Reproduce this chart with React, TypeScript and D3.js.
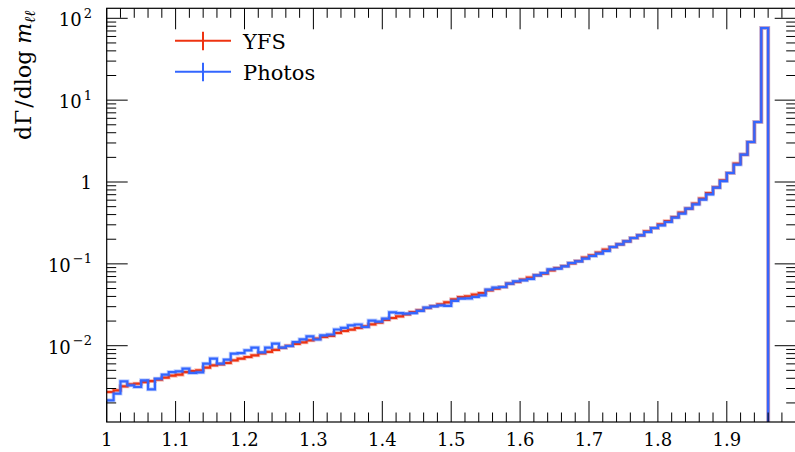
import React from 'react';
import * as d3 from 'd3';

// Histogram binning (bins of width 0.01 starting at m = 1.00)
const binStart = 1.0;
const binWidth = 0.01;

// dΓ/dlog m_ll per bin
const yfs = [
  0.00272, 0.00285, 0.00319, 0.00338, 0.00344, 0.0036, 0.0037, 0.00385, 0.00408, 0.00431,
  0.00443, 0.00477, 0.00491, 0.005, 0.0054, 0.00576, 0.00593, 0.00615, 0.00663, 0.00696,
  0.00728, 0.00763, 0.00807, 0.00842, 0.00891, 0.00943, 0.00997, 0.01055, 0.011, 0.01164,
  0.01221, 0.01277, 0.01321, 0.01429, 0.01512, 0.01573, 0.01646, 0.01726, 0.01826, 0.01915,
  0.02072, 0.0218, 0.02287, 0.02418, 0.0258, 0.02707, 0.02888, 0.03055, 0.03205, 0.0339,
  0.03689, 0.03936, 0.04013, 0.0421, 0.04405, 0.04751, 0.04984, 0.05215, 0.05737, 0.06002,
  0.06421, 0.06792, 0.07247, 0.07602, 0.08341, 0.08898, 0.09413, 0.1016, 0.1083, 0.1192,
  0.1272, 0.1372, 0.1493, 0.1606, 0.1733, 0.1886, 0.2069, 0.2233, 0.2498, 0.2742,
  0.3042, 0.3338, 0.3736, 0.4228, 0.4732, 0.5445, 0.6267, 0.7339, 0.8615, 1.049,
  1.288, 1.678, 2.161, 3.081, 5.408, 76.1,
];

const photos = [
  0.00215, 0.0026, 0.00367, 0.00328, 0.00313, 0.00378, 0.00293, 0.00396, 0.00443, 0.00477,
  0.00487, 0.00525, 0.00464, 0.00473, 0.00604, 0.00696, 0.00604, 0.00676, 0.008, 0.00814,
  0.00879, 0.00948, 0.0083, 0.00948, 0.01061, 0.00948, 0.00992, 0.0111, 0.01197, 0.01302,
  0.01191, 0.0134, 0.0137, 0.01577, 0.01654, 0.01775, 0.01815, 0.01692, 0.02026, 0.0197,
  0.02143, 0.02558, 0.02508, 0.02466, 0.02508, 0.02669, 0.02921, 0.0303, 0.03116, 0.03073,
  0.03537, 0.03762, 0.0378, 0.03936, 0.04126, 0.04845, 0.05127, 0.05215, 0.05737, 0.0612,
  0.06295, 0.0653, 0.07247, 0.07731, 0.08579, 0.0875, 0.09334, 0.1024, 0.1074, 0.1159,
  0.1247, 0.1334, 0.1435, 0.1606, 0.1733, 0.1886, 0.2069, 0.2233, 0.2449, 0.2742,
  0.2958, 0.3246, 0.3674, 0.4111, 0.4732, 0.534, 0.6095, 0.7075, 0.8543, 1.028,
  1.288, 1.631, 2.161, 3.081, 5.408, 76.1,
];

const seriesNames = ['YFS', 'Photos'];
const seriesColors = ['#ee3311', '#3366ff'];
const seriesValues = [yfs, photos];

const xTickValues = [1.0, 1.1, 1.2, 1.3, 1.4, 1.5, 1.6, 1.7, 1.8, 1.9];
const xTickLabels = ['1', '1.1', '1.2', '1.3', '1.4', '1.5', '1.6', '1.7', '1.8', '1.9'];
const yTickExponents = [-2, -1, 0, 1, 2];

const W = 795;
const H = 452;
const box = { left: 106.7, right: 795.7, top: 8.3, bottom: 422 };
const FONT = 'DejaVu Serif';

export default function App() {
  const x = d3.scaleLinear().domain([1, 2]).range([box.left, box.right]);
  const yMin = Math.pow(10, -2.932);
  const yMax = Math.pow(10, 2.1222);
  const y = d3.scaleLog().domain([yMin, yMax]).range([box.bottom, box.top]);

  const makePath = (vals: number[]) => {
    const pts: [number, number][] = vals.map((v, i) => [binStart + i * binWidth, v]);
    pts.push([binStart + vals.length * binWidth, yMin * 0.5]);
    const line = d3
      .line<[number, number]>()
      .x((d) => x(d[0]))
      .y((d) => Math.min(y(d[1]), box.bottom + 5))
      .curve(d3.curveStepAfter);
    return line(pts) || '';
  };

  const xTicks: { v: number; major: boolean }[] = [];
  for (let i = 0; i <= 50; i++) {
    xTicks.push({ v: 1 + i * 0.02, major: i % 5 === 0 });
  }
  const yTicks: { v: number; major: boolean }[] = [];
  for (let k = -3; k <= 2; k++) {
    for (let m = 1; m <= 9; m++) {
      const v = m * Math.pow(10, k);
      if (v >= yMin && v <= yMax) yTicks.push({ v, major: m === 1 });
    }
  }
  const majorLen = 21;
  const minorLen = 9.5;

  return (
    <svg
      width={W}
      height={H}
      style={{ position: 'absolute', left: 0, top: 0, background: '#fff' }}
      xmlns="http://www.w3.org/2000/svg"
    >
      <defs>
        <clipPath id="plotclip">
          <rect x={box.left} y={box.top} width={box.right - box.left} height={box.bottom - box.top} />
        </clipPath>
      </defs>
      <rect x={0} y={0} width={W} height={H} fill="#fff" />

      <g clipPath="url(#plotclip)" fill="none">
        {seriesValues.map((vals, si) => {
          const d = makePath(vals);
          return (
            <g key={si}>
              <path d={d} stroke={seriesColors[si]} strokeOpacity={0.3} strokeWidth={4} />
              <path d={d} stroke={seriesColors[si]} strokeWidth={2.2} />
            </g>
          );
        })}
      </g>

      <g stroke="#000" strokeWidth={1}>
        {xTicks.map((t, i) => {
          const px = x(t.v);
          const len = t.major ? majorLen : minorLen;
          return (
            <g key={'xt' + i}>
              <line x1={px} x2={px} y1={box.bottom} y2={box.bottom - len} />
              <line x1={px} x2={px} y1={box.top} y2={box.top + len} />
            </g>
          );
        })}
        {yTicks.map((t, i) => {
          const py = y(t.v);
          const len = t.major ? majorLen : minorLen;
          return (
            <g key={'yt' + i}>
              <line x1={box.left} x2={box.left + len} y1={py} y2={py} />
              <line x1={box.right} x2={box.right - len} y1={py} y2={py} />
            </g>
          );
        })}
      </g>

      <rect
        x={box.left}
        y={box.top}
        width={box.right - box.left}
        height={box.bottom - box.top}
        fill="none"
        stroke="#000"
        strokeWidth={1.2}
      />

      {xTickValues.map((v, i) => (
        <text
          key={'xl' + i}
          x={x(v)}
          y={446}
          textAnchor="middle"
          fontFamily={FONT}
          fontSize={18}
          fill="#000"
        >
          {xTickLabels[i]}
        </text>
      ))}

      {yTickExponents.map((k) => {
        const py = y(Math.pow(10, k));
        if (k === 0) {
          return (
            <text key={'yl' + k} x={92} y={py + 6.5} textAnchor="end" fontFamily={FONT} fontSize={18} fill="#000">
              1
            </text>
          );
        }
        return (
          <text key={'yl' + k} x={92} y={py + 8} textAnchor="end" fontFamily={FONT} fontSize={18} fill="#000">
            10
            <tspan fontSize={13} dy={-8.5} dx={2}>
              {k < 0 ? '\u2212' + Math.abs(k) : String(k)}
            </tspan>
          </text>
        );
      })}

      {/* y axis title */}
      <text
        transform="translate(31, 140) rotate(-90)"
        textAnchor="start"
        fontFamily={FONT}
        fontSize={22}
        fill="#000"
      >
        <tspan>d</tspan>
        <tspan dx={1}>Γ</tspan>
        <tspan dx={2}>/</tspan>
        <tspan dx={1}>dlog</tspan>
        <tspan dx={7} fontStyle="italic">m</tspan>
        <tspan fontSize={15} dy={4} fontStyle="italic">ℓℓ</tspan>
      </text>

      {seriesNames.map((name, i) => {
        const ly = 40.7 + i * 31;
        return (
          <g key={'lg' + i}>
            <line x1={175} x2={231} y1={ly} y2={ly} stroke={seriesColors[i]} strokeWidth={2} />
            <line x1={203} x2={203} y1={ly - 9} y2={ly + 9.5} stroke={seriesColors[i]} strokeWidth={2} />
            <text x={243} y={ly + 8.5} fontFamily={FONT} fontSize={21} fill="#000">
              {name}
            </text>
          </g>
        );
      })}
    </svg>
  );
}
